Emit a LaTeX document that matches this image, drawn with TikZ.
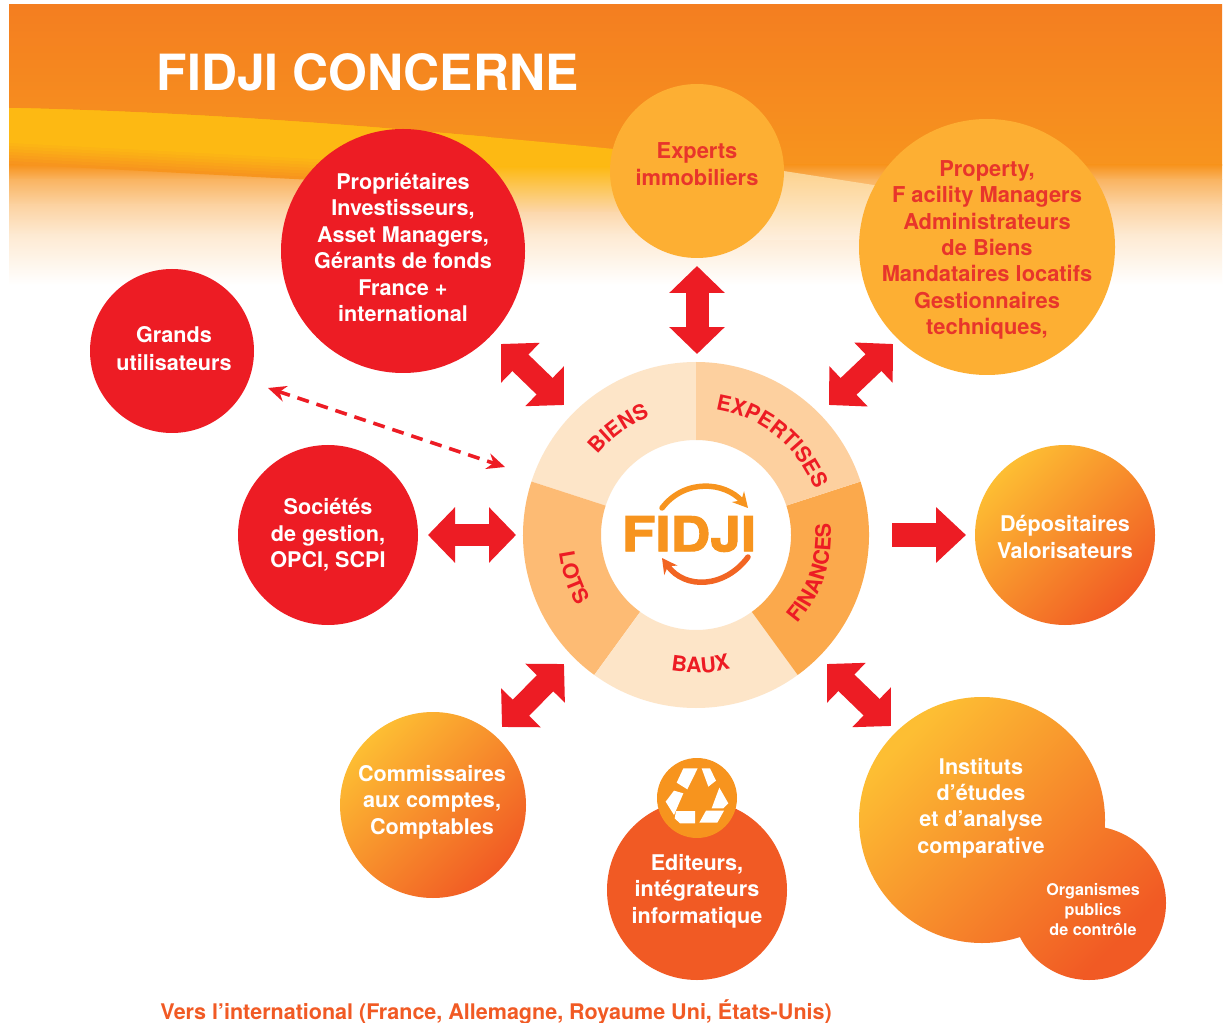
\documentclass[tikz,border=0pt]{standalone}
\usepackage{fontspec}
\setmainfont{TeX Gyre Heros}
\newfontfamily\logofont{TeX Gyre Heros}[BoldFeatures={FakeBold=2}]
\usetikzlibrary{arrows.meta,decorations.text}
\definecolor{fred}{HTML}{ED1C24}
\definecolor{txtred}{HTML}{E8352B}
\definecolor{ora}{HTML}{F7941E}
\definecolor{oratop}{HTML}{F47E20}
\definecolor{yel}{HTML}{FDB913}
\definecolor{amber}{HTML}{FDAF33}
\definecolor{deep}{HTML}{F15A24}
\definecolor{gradtop}{HTML}{FDBE33}
\definecolor{segA}{HTML}{FDE5C8}
\definecolor{segB}{HTML}{FDD09F}
\definecolor{segC}{HTML}{FBA94C}
\definecolor{segD}{HTML}{FDBB74}
\newcommand{\fsz}[2]{\fontsize{#1}{#2}\selectfont\bfseries}
\tikzset{
  disc/.style={circle,inner sep=0pt,minimum size=#1*0.02cm},
  reddisc/.style={disc=#1,fill=fred},
  ambdisc/.style={disc=#1,fill=amber},
  graddisc/.style={disc=#1,top color=gradtop,middle color=ora,bottom color=deep,shading angle=45},
  lab/.style={align=center,inner sep=0pt,text=white,font=\fsz{12.3}{15}},
  labred/.style={lab,text=txtred,font=\fsz{12.45}{15}},
  block/.style={line width=0.46cm,fred,{Triangle[length=0.54cm,width=1.08cm]}-{Triangle[length=0.54cm,width=1.08cm]}},
  blockone/.style={line width=0.5cm,fred,-{Triangle[length=0.6cm,width=1.08cm]}},
  dashedlink/.style={line width=0.07cm,fred,dash pattern=on 0.24cm off 0.16cm,{Stealth[length=0.36cm,width=0.32cm]}-{Stealth[length=0.36cm,width=0.32cm]}},
  ringtext/.style={decorate,decoration={text along path,text align=center,text={|\fsz{12.1}{14}\color{fred}|#1}}},
  logoarc/.style={line width=0.11cm,line cap=round,-{Stealth[length=0.3cm,width=0.32cm]}},
  recyc/.style={fill=white},
}
\begin{document}
\begin{tikzpicture}[x=0.02cm,y=-0.02cm]
\useasboundingbox (0,0) rectangle (1230,1023);
% background
\fill[white] (0,0) rectangle (1230,1023);
\shade[top color=oratop,bottom color=ora] (9,5) rectangle (1222,166);
\shade[top color=ora,bottom color=ora!70!white] (9,165) rectangle (1222,180);
\shade[top color=ora!70!white,bottom color=ora!42!white] (9,179.5) rectangle (1222,205);
\shade[top color=ora!42!white,bottom color=ora!20!white] (9,204.5) rectangle (1222,235);
\shade[top color=ora!20!white,bottom color=white] (9,234.5) rectangle (1222,285);
% band: yellow part fading to orange on the left
\begin{scope}
\clip (9,100) rectangle (490,200);
\foreach \i in {0,...,7}{
  \pgfmathsetmacro{\mx}{2+\i*14}
  \pgfmathsetmacro{\off}{24-\i*3}
  \fill[yel!\mx!ora] (9,108) .. controls (200,112) and (420,128) .. (720,160)
    -- (720,175+\off) .. controls (560,170+\off) and (300,155+\off) .. (9,140+\off) -- cycle;
}
\end{scope}
% band: right part fading to pale
\begin{scope}
\clip (9,108) .. controls (200,112) and (420,128) .. (720,160) -- (720,260) -- (9,260) -- cycle;
\clip (489,100) rectangle (720,260);
\fill[yel] (489,125) rectangle (720,167);
\shade[top color=yel,bottom color=ora!38!white] (489,166.5) rectangle (720,212);
\end{scope}
\shade[top color=yel!45!ora!55!white,bottom color=ora!15!white] (700,158) -- (880,186) -- (880,240) -- (700,240) -- cycle;
% discs
\node[reddisc=244] (prop) at (403,251) {};
\node[ambdisc=174] (exp) at (697,171) {};
\node[ambdisc=256] (mgr) at (987,247) {};
\node[reddisc=164] (grands) at (172,351) {};
\node[reddisc=180] (soc) at (328,535) {};
\node[graddisc=180] (depo) at (1065,535) {};
\node[graddisc=186] (comm) at (433,805) {};
\node[disc=180,fill=deep] (edit) at (697,890) {};
\node[disc=80,fill=ora] (recy) at (697,798) {};
\shade[top color=gradtop,middle color=ora,bottom color=deep,shading angle=45]
  (982,820) circle[radius=123] (1089,903) circle[radius=77];
\node[disc=246] (inst) at (982,820) {};
\node[disc=154] (orga) at (1089,903) {};
% recycling symbol
\begin{scope}[shift={(600,740)},x=0.00667cm,y=-0.00667cm]
\fill[recyc] (250,85)--(293,85)--(262,148)--(230,128)--cycle;
\fill[recyc] (305,85)--(330,85)--(348,122)--(325,140)--cycle;
\fill[recyc] (358,143)--(385,190)--(370,205)--(335,205)--cycle;
\fill[recyc] (318,212)--(372,212)--(352,248)--(298,248)--cycle;
\fill[recyc] (228,213)--(285,213)--(285,250)--(240,250)--(224,235)--cycle;
\fill[recyc] (197,185)--(222,152)--(250,160)--(222,225)--cycle;
\end{scope}
% labels
\node[font=\fsz{28.4}{32},text=white,anchor=west,inner sep=0pt] (title) at (156.5,72) {FIDJI CONCERNE};
\node[lab] (tprop) at (403,247.5) {Propriétaires\\Investisseurs,\\Asset Managers,\\Gérants de fonds\\France +\\international};
\node[labred] (texp) at (697,164) {Experts\\immobiliers};
\node[labred] (tmgr) at (987,250) {Property,\\F acility Managers\\Administrateurs\\de Biens\\Mandataires locatifs\\Gestionnaires\\techniques,};
\node[lab,font=\fsz{12.3}{16}] (tgrands) at (174,349) {Grands\\utilisateurs};
\node[lab] (tsoc) at (328,535) {Sociétés\\de gestion,\\OPCI, SCPI};
\node[lab] (tdepo) at (1065,537) {Dépositaires\\Valorisateurs};
\node[lab] (tcomm) at (432,802) {Commissaires\\aux comptes,\\Comptables};
\node[lab] (tedit) at (697,891) {Editeurs,\\intégrateurs\\informatique};
\node[lab] (tinst) at (981,808) {Instituts\\d’études\\et d’analyse\\comparative};
\node[lab,font=\fsz{9.2}{11.4}] (torga) at (1093,910) {Organismes\\publics\\de contrôle};
\node[font=\fsz{12.25}{15},text=deep,anchor=west,inner sep=0pt] (foot) at (160,1012) {Vers l’international (France, Allemagne, Royaume Uni, États-Unis)};
% hub
\node[disc=346] (hub) at (696,535) {};
\begin{scope}[shift={(696,535)},y=0.02cm]
\foreach \a/\b/\c in {90/162/segA,162/234/segD,234/306/segA,306/378/segC,18/90/segB}{
  \fill[\c] (\a:173) arc[start angle=\a,end angle=\b,radius=173] -- (\b:95) arc[start angle=\b,end angle=\a,radius=95] -- cycle;
}
\path[ringtext=BIENS] (152:127) arc[start angle=152,end angle=100,radius=127];
\path[ringtext=EXPERTISES] (96:127) arc[start angle=96,end angle=6,radius=127];
\path[ringtext=FINANCES] (-53:135) arc[start angle=-53,end angle=17,radius=135];
\path[ringtext=BAUX] (245:138) arc[start angle=245,end angle=299,radius=138];
\path[ringtext=LOTS] (172:138) arc[start angle=172,end angle=226,radius=138];
\end{scope}
% logo
\node[font=\logofont\fsz{27.4}{30},text=ora,inner sep=0pt,xscale=1.14] (logo) at (689,534) {FIDJI};
\draw[logoarc,ora] (662,508) .. controls (685,478) and (725,482) .. (748,508);
\draw[logoarc,deep!80!ora] (748,557) .. controls (725,588) and (685,590) .. (662,558);
% connectors
\coordinate (a1s) at (501,344); \coordinate (a1e) at (564,405);
\coordinate (a2s) at (893,344); \coordinate (a2e) at (829,405);
\coordinate (a3s) at (564,664); \coordinate (a3e) at (502,727);
\coordinate (a4s) at (827,664); \coordinate (a4e) at (891,726);
\coordinate (a5s) at (697,266); \coordinate (a5e) at (697,354);
\coordinate (a6s) at (428,535); \coordinate (a6e) at (516,535);
\coordinate (a7s) at (892,535); \coordinate (a7e) at (966,535);
\coordinate (d1) at (268,388); \coordinate (d2) at (505,467);
\draw[block] (a1s) -- (a1e);
\draw[block] (a2s) -- (a2e);
\draw[block] (a3s) -- (a3e);
\draw[block] (a4s) -- (a4e);
\draw[block] (a5s) -- (a5e);
\draw[block] (a6s) -- (a6e);
\draw[blockone] (a7s) -- (a7e);
\draw[dashedlink] (d1) -- (d2);
\end{tikzpicture}
\end{document}
